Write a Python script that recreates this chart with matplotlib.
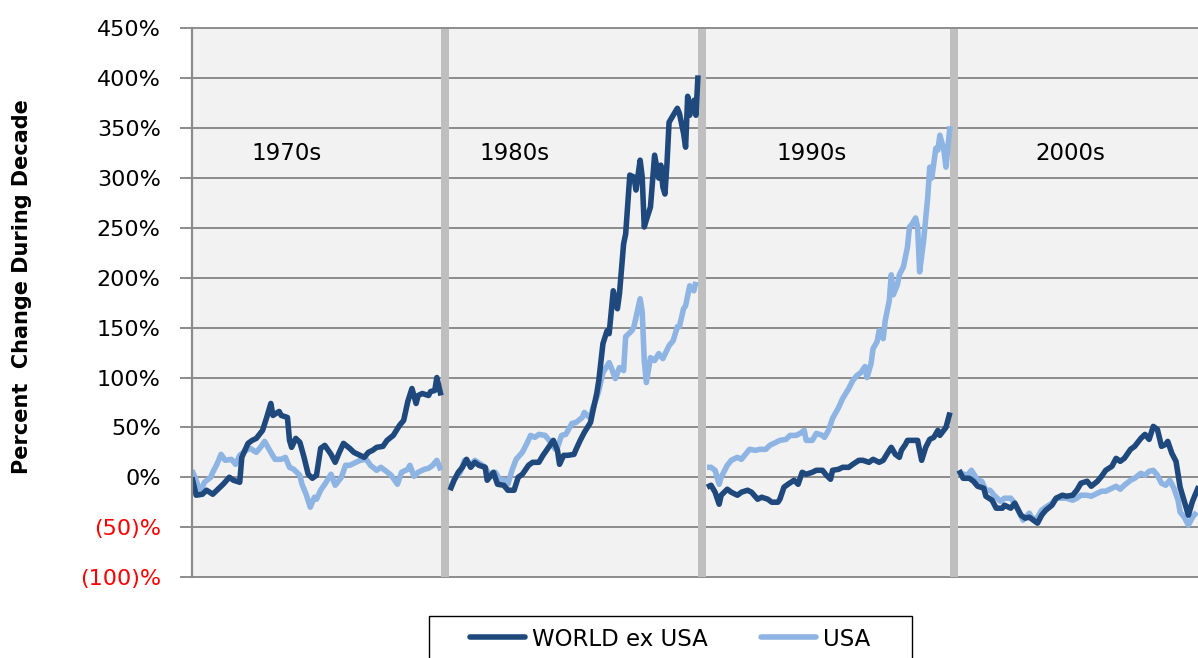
import matplotlib
matplotlib.use("Agg")
import matplotlib.pyplot as plt
from matplotlib.patches import Rectangle
from matplotlib.lines import Line2D

# ---------------- data ----------------
decades = ["1970s", "1980s", "1990s", "2000s"]
series_names = ["WORLD ex USA", "USA"]

world_1970s_month = [0, 2, 5, 7, 10, 12, 15, 18, 20, 23, 24, 27, 29, 31, 34, 36, 38, 39, 42, 43, 46, 47, 48, 50, 52,
                     54, 56, 58, 60, 62, 64, 67, 69, 71, 73, 76, 78, 81, 83, 85, 87, 89, 92, 94, 97, 100, 102, 104,
                     106, 108, 109, 111, 114, 115, 117, 118, 120]
world_1970s = [0, -18, -17, -13, -17, -13, -7, 0, -3, -5, 20, 34, 37, 39, 47, 60, 74, 62, 66, 62, 60, 37, 30, 39, 35,
               20, 3, -1, 2, 29, 32, 23, 15, 25, 34, 29, 25, 22, 20, 25, 27, 30, 31, 37, 42, 52, 57, 76, 89, 74, 82,
               84, 82, 86, 87, 100, 82]
usa_1970s_month = [0, 2, 4, 6, 9, 10, 12, 14, 16, 19, 21, 23, 26, 28, 31, 33, 35, 38, 40, 43, 45, 47, 49, 52, 53, 55,
                   57, 59, 60, 62, 64, 67, 69, 72, 74, 76, 79, 81, 84, 86, 89, 91, 93, 96, 99, 101, 104, 105, 107,
                   109, 112, 114, 116, 118, 120]
usa_1970s = [7, -3, -15, -5, 0, 5, 13, 23, 17, 18, 13, 22, 27, 29, 25, 30, 36, 25, 18, 18, 20, 10, 8, 2, -7, -17, -30,
             -20, -22, -13, -7, 3, -8, 0, 12, 12, 15, 17, 18, 12, 7, 10, 7, 2, -7, 5, 8, 12, 1, 5, 8, 9, 12, 17, 7]

world_1980s_month = [0, 2, 4, 6, 8, 10, 12, 14, 17, 18, 21, 23, 26, 28, 31, 33, 35, 38, 40, 43, 45, 47, 50, 52, 53,
                     55, 57, 60, 61, 63, 65, 68, 69, 71, 72, 74, 76, 77, 79, 81, 82, 84, 85, 87, 89, 90, 92, 93, 94,
                     95, 97, 99, 101, 102, 103, 104, 105, 106, 108, 110, 111, 113, 114, 115, 116, 118, 119, 120]
world_1980s = [-13, -3, 5, 10, 18, 10, 15, 12, 10, -3, 5, -7, -8, -13, -13, 0, 3, 12, 15, 15, 22, 28, 37, 27, 13, 22,
               22, 23, 28, 37, 45, 55, 65, 84, 97, 134, 147, 144, 187, 169, 184, 234, 244, 303, 301, 288, 318, 301,
               251, 258, 271, 323, 300, 313, 291, 284, 315, 356, 363, 370, 365, 345, 331, 382, 363, 378, 363, 403]
usa_1980s_month = [0, 2, 5, 7, 10, 12, 15, 17, 19, 22, 24, 27, 28, 30, 32, 35, 37, 39, 41, 43, 46, 48, 51, 52, 54, 56,
                   59, 61, 64, 65, 68, 69, 71, 72, 74, 77, 78, 80, 82, 84, 85, 88, 89, 92, 93, 94, 95, 97, 99, 101,
                   103, 106, 108, 110, 111, 113, 114, 116, 118, 119]
usa_1980s = [-12, -2, 5, 17, 12, 17, 13, 10, 3, 5, -2, -3, -7, 7, 18, 25, 33, 42, 40, 43, 42, 37, 28, 30, 42, 43, 54,
             55, 60, 65, 59, 69, 80, 87, 105, 115, 110, 99, 110, 107, 141, 147, 151, 179, 166, 117, 95, 120, 117, 124,
             119, 132, 137, 151, 151, 169, 172, 192, 187, 196]

world_1990s_month = [0, 2, 4, 6, 7, 10, 12, 15, 17, 20, 22, 25, 27, 30, 32, 35, 36, 38, 40, 43, 45, 47, 49, 52, 54,
                     57, 59, 61, 62, 65, 67, 70, 72, 75, 77, 80, 82, 85, 87, 90, 91, 93, 95, 96, 98, 99, 102, 104,
                     106, 108, 110, 112, 114, 115, 118, 120]
world_1990s = [-10, -8, -15, -27, -18, -12, -15, -18, -15, -13, -15, -22, -20, -22, -25, -25, -22, -10, -7, -3, -7, 5,
               3, 5, 7, 7, 2, -2, 7, 8, 10, 10, 13, 17, 17, 15, 18, 15, 17, 27, 30, 23, 20, 27, 33, 37, 37, 37, 17,
               30, 38, 40, 47, 42, 50, 65]
usa_1990s_month = [0, 2, 4, 6, 7, 10, 12, 15, 17, 19, 21, 24, 26, 29, 31, 34, 36, 39, 41, 44, 46, 48, 49, 52, 54, 57,
                   58, 60, 62, 65, 67, 70, 72, 74, 76, 78, 79, 81, 82, 84, 85, 87, 88, 90, 91, 92, 94, 95, 97, 99,
                   100, 101, 103, 104, 105, 107, 109, 110, 111, 113, 114, 115, 117, 118, 120]
usa_1990s = [10, 10, 7, -7, 0, 12, 17, 20, 18, 23, 28, 27, 28, 28, 32, 35, 37, 38, 42, 42, 44, 47, 37, 37, 44, 42, 40,
             47, 59, 70, 79, 89, 97, 102, 105, 111, 100, 114, 129, 136, 147, 139, 157, 177, 203, 183, 193, 203, 211,
             231, 251, 253, 260, 251, 206, 238, 281, 311, 300, 330, 328, 343, 328, 311, 352]

world_2000s_month = [0, 2, 5, 7, 9, 12, 13, 16, 18, 21, 22, 25, 27, 30, 32, 34, 38, 40, 42, 45, 47, 50, 52, 55, 57,
                     59, 62, 64, 67, 69, 71, 74, 76, 78, 80, 83, 85, 88, 90, 92, 94, 96, 98, 100, 101, 103, 105, 107,
                     109, 111, 113, 116]
world_2000s = [7, -1, -1, -4, -9, -11, -19, -23, -31, -31, -28, -31, -26, -38, -41, -40, -46, -38, -33, -28, -21, -18,
               -19, -18, -13, -6, -4, -9, -4, 1, 7, 11, 19, 16, 19, 28, 31, 39, 43, 38, 51, 48, 31, 33, 36, 24, 16,
               -10, -24, -38, -24, -9]
usa_2000s_month = [0, 1, 4, 6, 9, 11, 13, 15, 17, 20, 22, 25, 27, 29, 31, 34, 36, 38, 40, 42, 45, 47, 50, 52, 55, 57,
                   59, 62, 64, 67, 69, 71, 74, 76, 78, 80, 83, 85, 88, 90, 92, 94, 96, 98, 100, 102, 104, 106, 107,
                   109, 111, 113, 115]
usa_2000s = [7, 4, 2, 7, -3, -4, -13, -13, -18, -24, -21, -21, -26, -35, -43, -36, -43, -40, -33, -30, -26, -21, -21,
             -21, -23, -21, -18, -18, -19, -16, -14, -14, -11, -9, -12, -8, -3, -1, 4, 2, 6, 7, 2, -6, -8, -3, -11,
             -23, -35, -40, -48, -40, -35]

ytick_values = [-100, -50, 0, 50, 100, 150, 200, 250, 300, 350, 400, 450]
ytick_labels = ["(100)%", "(50)%", "0%", "50%", "100%", "150%", "200%", "250%", "300%", "350%", "400%", "450%"]

world_months = [world_1970s_month, world_1980s_month, world_1990s_month, world_2000s_month]
world_vals = [world_1970s, world_1980s, world_1990s, world_2000s]
usa_months = [usa_1970s_month, usa_1980s_month, usa_1990s_month, usa_2000s_month]
usa_vals = [usa_1970s, usa_1980s, usa_1990s, usa_2000s]

# ---------------- layout / style ----------------
W, H = 1198, 658
AX_L, AX_T, AX_B = 192, 28.5, 577
panel_start = [0, 258, 515, 767]        # px from left of axes
panel_width = [249, 248, 243, 248]      # px covered by 120 months
sep_spans = [(249, 257.3), (506.3, 514.3), (758, 766.3)]
label_cx = [287, 515, 812, 1070]
label_cy = 154
DARK = "#1F497D"
LIGHT = "#8DB4E2"
GRID = "#8C8C8C"
FONT = 16
LW = 4.0

fig = plt.figure(figsize=(W / 100, H / 100), dpi=100)
ax = fig.add_axes([AX_L / W, (H - AX_B) / H, (W - AX_L) / W, (AX_B - AX_T) / H])
ax.set_xlim(0, W - AX_L)
ax.set_ylim(-100, 450)
ax.set_facecolor("#F2F2F2")

for y in ytick_values:
    ax.axhline(y, color=GRID, lw=1.4, zorder=1, clip_on=False)

for s, e in sep_spans:
    ax.axvspan(s, e, color="#BFBFBF", lw=0, zorder=2)


def to_x(d, months):
    return [panel_start[d] + m / 120.0 * panel_width[d] for m in months]


for d in range(len(decades)):
    ax.plot(to_x(d, usa_months[d]), usa_vals[d], color=LIGHT, lw=LW, zorder=3,
            solid_joinstyle="round", solid_capstyle="butt")
    ax.plot(to_x(d, world_months[d]), world_vals[d], color=DARK, lw=LW, zorder=4,
            solid_joinstyle="round", solid_capstyle="butt")

for sp in ["top", "right", "bottom"]:
    ax.spines[sp].set_visible(False)
ax.spines["left"].set_color(GRID)
ax.spines["left"].set_linewidth(1.6)
ax.spines["left"].set_zorder(5)

ax.set_xticks([])
ax.set_yticks(ytick_values)
ax.set_yticklabels(ytick_labels)
ax.tick_params(axis="y", direction="out", length=9, width=1.4, color=GRID, pad=13.5, labelsize=FONT)
for v, lab in zip(ytick_values, ax.get_yticklabels()):
    lab.set_color("#FF0000" if v < 0 else "black")

fig.text(22 / W, 1 - 287 / H, "Percent  Change During Decade", rotation=90, fontweight="bold",
         fontsize=15, ha="center", va="center")

for name, cx in zip(decades, label_cx):
    fig.text(cx / W, 1 - label_cy / H, name, fontsize=16.5, ha="center", va="center")

# legend box (cut by the bottom edge as in the reference)
fig.add_artist(Rectangle((429.3 / W, -0.05), (911.7 - 429.3) / W, 0.05 + (H - 615.7) / H,
                         transform=fig.transFigure, facecolor="white", edgecolor="black", lw=1.0))
handles = [Line2D([], [], color=DARK, lw=4.0, solid_capstyle="round"),
           Line2D([], [], color=LIGHT, lw=4.0, solid_capstyle="round")]
fig.legend(handles, series_names, ncol=2, frameon=False, loc="center left",
           bbox_to_anchor=(470 / W, 1 - 639 / H), borderpad=0, borderaxespad=0,
           handlelength=2.4, handletextpad=0.3, columnspacing=2.35, fontsize=16.5)

fig.savefig("out.png", dpi=100)
